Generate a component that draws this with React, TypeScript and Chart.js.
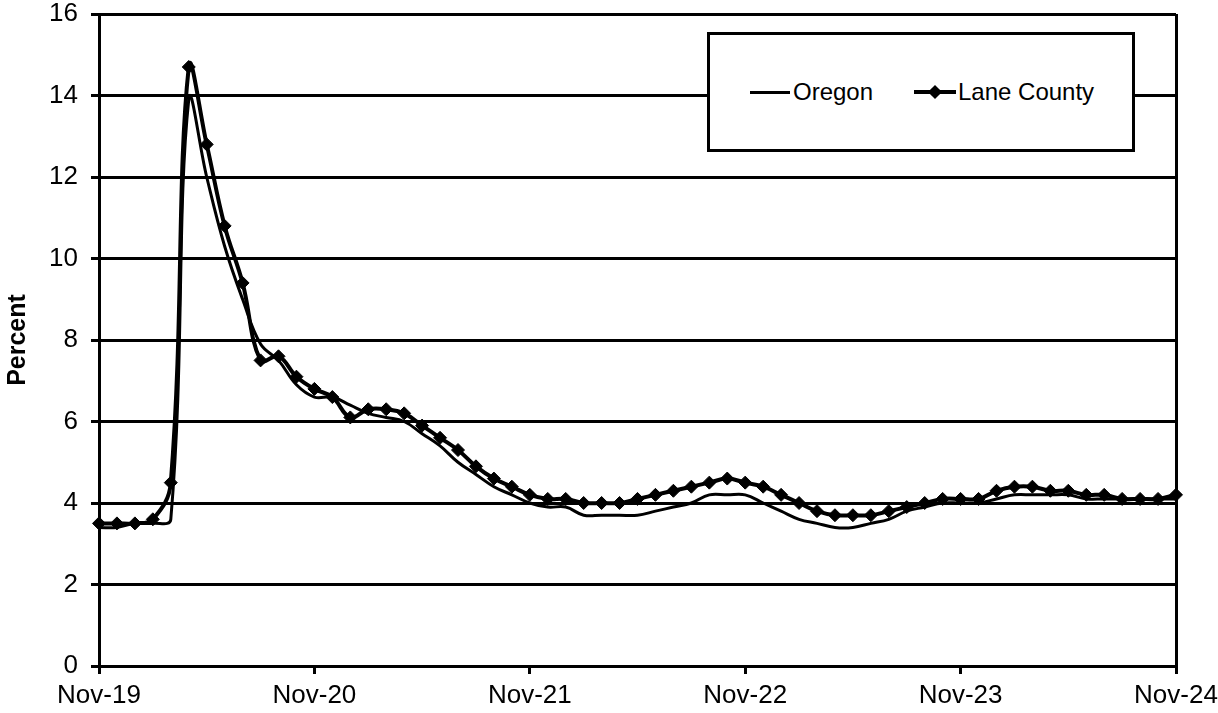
import React, { useEffect, useRef } from 'react';
import { Chart, registerables } from 'chart.js';

Chart.register(...registerables);

const MONTH_NAMES = ['Jan', 'Feb', 'Mar', 'Apr', 'May', 'Jun', 'Jul', 'Aug', 'Sep', 'Oct', 'Nov', 'Dec'];
const months: string[] = [];
for (let i = 0; i < 61; i++) {
  const m = (10 + i) % 12;
  const y = 19 + Math.floor((10 + i) / 12);
  months.push(`${MONTH_NAMES[m]}-${y}`);
}

const oregon = [
  3.4, 3.4, 3.5, 3.5, 3.6, 13.9, 12.0, 10.3, 9.0, 7.9,
  7.5, 6.9, 6.6, 6.6, 6.4, 6.2, 6.1, 6.0, 5.7, 5.4,
  5.0, 4.7, 4.4, 4.2, 4.0, 3.9, 3.9, 3.7, 3.7, 3.7,
  3.7, 3.8, 3.9, 4.0, 4.2, 4.2, 4.2, 4.0, 3.8, 3.6,
  3.5, 3.4, 3.4, 3.5, 3.6, 3.8, 3.9, 4.0, 4.0, 4.0,
  4.1, 4.2, 4.2, 4.2, 4.2, 4.1, 4.1, 4.1, 4.1, 4.1,
  4.1,
];

const laneCounty = [
  3.5, 3.5, 3.5, 3.6, 4.5, 14.7, 12.8, 10.8, 9.4, 7.5,
  7.6, 7.1, 6.8, 6.6, 6.1, 6.3, 6.3, 6.2, 5.9, 5.6,
  5.3, 4.9, 4.6, 4.4, 4.2, 4.1, 4.1, 4.0, 4.0, 4.0,
  4.1, 4.2, 4.3, 4.4, 4.5, 4.6, 4.5, 4.4, 4.2, 4.0,
  3.8, 3.7, 3.7, 3.7, 3.8, 3.9, 4.0, 4.1, 4.1, 4.1,
  4.3, 4.4, 4.4, 4.3, 4.3, 4.2, 4.2, 4.1, 4.1, 4.1,
  4.2,
];

const yTicks = [0, 2, 4, 6, 8, 10, 12, 14, 16];
const FONT = '"Liberation Sans", Arial, sans-serif';
const TRANSPARENT = 'rgba(0,0,0,0)';

export default function App() {
  const canvasRef = useRef<HTMLCanvasElement | null>(null);

  useEffect(() => {
    document.body.style.margin = '0';
    const canvas = canvasRef.current;
    if (!canvas) return;
    const chart = new Chart(canvas, {
      type: 'line',
      data: {
        labels: months,
        datasets: [
          {
            label: 'Oregon',
            data: oregon,
            borderColor: '#000',
            backgroundColor: '#000',
            borderWidth: 3,
            pointRadius: 0,
            tension: 0.4,
            fill: false,
          },
          {
            label: 'Lane County',
            data: laneCounty,
            borderColor: '#000',
            backgroundColor: '#000',
            borderWidth: 4,
            pointStyle: 'rectRot',
            pointRadius: 6.5,
            pointBorderWidth: 1,
            tension: 0.4,
            fill: false,
          },
        ],
      },
      options: {
        responsive: false,
        animation: false,
        devicePixelRatio: 1,
        layout: { padding: { top: 14, right: 42, left: 0, bottom: 0 } },
        plugins: {
          legend: { display: false },
          tooltip: { enabled: false },
        },
        scales: {
          x: {
            type: 'category',
            offset: false,
            grid: {
              drawOnChartArea: true,
              color: (ctx: any) => (ctx.index === 60 ? '#000' : TRANSPARENT),
              lineWidth: 3,
              tickColor: (ctx: any) => (ctx.index % 12 === 0 ? '#000' : TRANSPARENT),
              tickLength: 8,
              tickWidth: 3,
            },
            border: { display: true, color: '#000', width: 3 },
            ticks: {
              autoSkip: false,
              maxRotation: 0,
              minRotation: 0,
              padding: 6,
              color: '#000',
              font: { family: FONT, size: 26 },
              callback: (_v: any, idx: number) => (idx % 12 === 0 ? months[idx] : ''),
            },
            afterFit: (scale: any) => {
              scale.height = 47;
              scale.paddingLeft = 0;
              scale.paddingRight = 0;
            },
          },
          y: {
            min: 0,
            max: 16,
            afterBuildTicks: (scale: any) => {
              scale.ticks = yTicks.map((v) => ({ value: v }));
            },
            grid: {
              color: '#000',
              lineWidth: 3,
              tickLength: 8,
              drawTicks: true,
            },
            border: { display: true, color: '#000', width: 3 },
            ticks: {
              padding: 13,
              color: '#000',
              font: { family: FONT, size: 26 },
            },
            title: {
              display: true,
              text: 'Percent',
              color: '#000',
              font: { family: FONT, size: 25, weight: 'bold' },
              padding: { top: 3, bottom: 0 },
            },
            afterFit: (scale: any) => {
              scale.width = 99;
              scale.paddingTop = 0;
              scale.paddingBottom = 0;
            },
          },
        },
      },
    });
    return () => chart.destroy();
  }, []);

  const textStyle: React.CSSProperties = {
    position: 'absolute',
    top: 80,
    fontFamily: FONT,
    fontSize: 24,
    lineHeight: '24px',
    color: '#000',
    whiteSpace: 'nowrap',
  };

  return (
    <div style={{ position: 'relative', width: 1218, height: 713, background: '#fff' }}>
      <canvas ref={canvasRef} width={1218} height={713} style={{ display: 'block' }} />
      <div
        style={{
          position: 'absolute',
          left: 707,
          top: 32,
          width: 428,
          height: 120,
          border: '3px solid #000',
          boxSizing: 'border-box',
          background: '#fff',
        }}
      />
      <div style={{ position: 'absolute', left: 750, top: 91, width: 40, height: 3, background: '#000' }} />
      <div style={{ ...textStyle, left: 793 }}>Oregon</div>
      <div style={{ position: 'absolute', left: 914, top: 90, width: 42, height: 4, background: '#000' }} />
      <div
        style={{
          position: 'absolute',
          left: 930,
          top: 87,
          width: 10,
          height: 10,
          background: '#000',
          transform: 'rotate(45deg)',
        }}
      />
      <div style={{ ...textStyle, left: 958 }}>Lane County</div>
    </div>
  );
}
